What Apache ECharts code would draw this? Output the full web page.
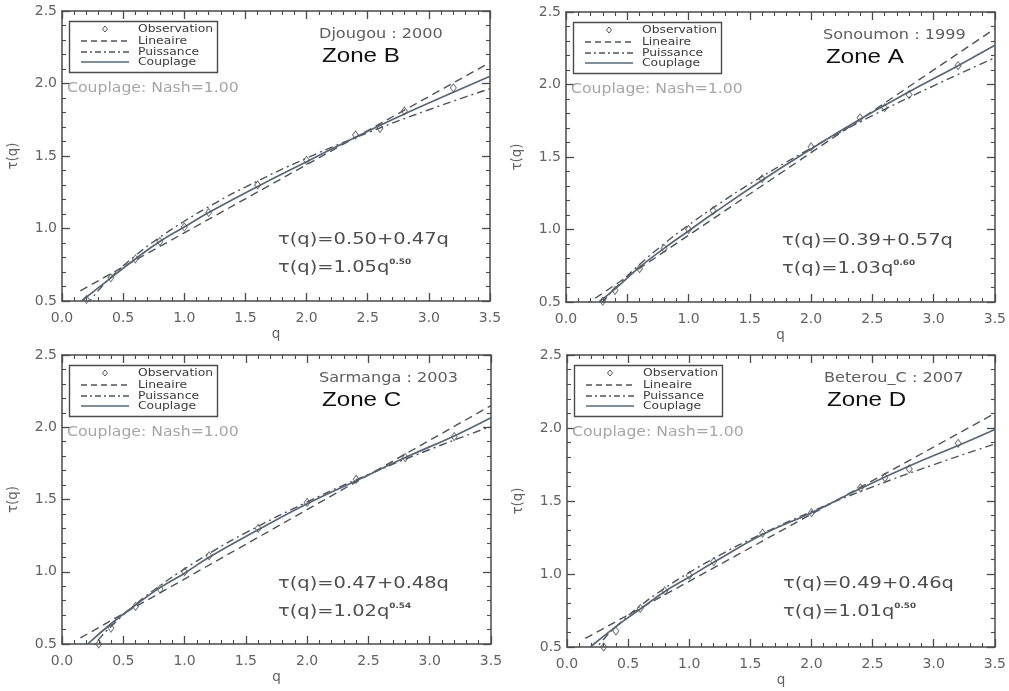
<!DOCTYPE html>
<html>
<head>
<meta charset="utf-8">
<script src="https://cdn.jsdelivr.net/npm/echarts@6/dist/echarts.min.js"></script>
<style>
  html, body { margin: 0; padding: 0; background: #fff; }
  #chart { width: 1009px; height: 691px; }
</style>
</head>
<body>
<div id="chart"></div>
<script>
// ---- Axis ranges and ticks ----
const qRange = [0, 3.5];
const tauRange = [0.5, 2.5];
const tickStep = 0.5;

// ---- Panel annotations ----
const stations = ['Djougou : 2000', 'Sonoumon : 1999', 'Sarmanga : 2003', 'Beterou_C : 2007'];
const zones = ['Zone B', 'Zone A', 'Zone C', 'Zone D'];
const linLabels = ['τ(q)=0.50+0.47q', 'τ(q)=0.39+0.57q', 'τ(q)=0.47+0.48q', 'τ(q)=0.49+0.46q'];
const powLabels = ['τ(q)=1.05q', 'τ(q)=1.03q', 'τ(q)=1.02q', 'τ(q)=1.01q'];
const powExponents = ['0.50', '0.60', '0.54', '0.50'];
const nashLabel = 'Couplage: Nash=1.00';
const legendNames = ['Observation', 'Lineaire', 'Puissance', 'Couplage'];

// ---- Observations τ(q) ----
const obsQ_B = [0.2, 0.4, 0.6, 0.8, 1.0, 1.2, 1.6, 2.0, 2.4, 2.6, 2.8, 3.2];
const obsTau_B = [0.51, 0.66, 0.79, 0.91, 1.01, 1.11, 1.30, 1.47, 1.645, 1.69, 1.81, 1.97];
const obsQ_A = [0.3, 0.4, 0.6, 0.8, 1.0, 1.2, 1.6, 2.0, 2.4, 2.6, 2.8, 3.2];
const obsTau_A = [0.505, 0.58, 0.73, 0.87, 1.0, 1.13, 1.35, 1.57, 1.77, 1.84, 1.93, 2.13];
const obsQ_C = [0.3, 0.4, 0.6, 0.8, 1.0, 1.2, 1.6, 2.0, 2.4, 2.8, 3.2];
const obsTau_C = [0.50, 0.61, 0.76, 0.88, 1.0, 1.11, 1.30, 1.48, 1.64, 1.79, 1.935];
const obsQ_D = [0.3, 0.4, 0.6, 0.8, 1.0, 1.2, 1.6, 2.0, 2.4, 2.6, 2.8, 3.2];
const obsTau_D = [0.50, 0.61, 0.765, 0.885, 0.99, 1.085, 1.28, 1.42, 1.59, 1.66, 1.72, 1.895];

// ---- Linear fits (end points) ----
const linQ = [0.15, 3.5];
const linTau_B = [0.5705, 2.145];
const linTau_A = [0.4755, 2.385];
const linTau_C = [0.542, 2.15];
const linTau_D = [0.559, 2.10];

// ---- Power-law fits ----
const powQ = [0.2, 0.3, 0.4, 0.6, 0.8, 1.0, 1.25, 1.5, 2.0, 2.5, 3.0, 3.5];
const powTau_B = [0.470, 0.575, 0.664, 0.813, 0.939, 1.050, 1.174, 1.286, 1.485, 1.660, 1.819, 1.964];
const powTau_A = [0.392, 0.500, 0.594, 0.758, 0.901, 1.030, 1.178, 1.314, 1.561, 1.785, 1.991, 2.184];
const powTau_C = [0.428, 0.532, 0.622, 0.774, 0.904, 1.020, 1.151, 1.270, 1.483, 1.673, 1.846, 2.006];
const powTau_D = [0.452, 0.553, 0.639, 0.782, 0.903, 1.010, 1.129, 1.237, 1.428, 1.597, 1.749, 1.890];

// ---- Coupled model ----
const coupQ_B = [0.16, 0.4, 0.6, 0.8, 1.0, 1.2, 1.6, 2.0, 2.4, 2.8, 3.2, 3.5];
const coupTau_B = [0.5, 0.66, 0.79, 0.91, 1.01, 1.11, 1.29, 1.46, 1.63, 1.79, 1.94, 2.05];
const coupQ_A = [0.27, 0.4, 0.6, 0.8, 1.0, 1.2, 1.6, 2.0, 2.4, 2.8, 3.2, 3.5];
const coupTau_A = [0.5, 0.59, 0.74, 0.87, 0.99, 1.11, 1.34, 1.555, 1.76, 1.95, 2.13, 2.27];
const coupQ_C = [0.21, 0.4, 0.6, 0.8, 1.0, 1.2, 1.6, 2.0, 2.4, 2.8, 3.2, 3.5];
const coupTau_C = [0.5, 0.64, 0.77, 0.89, 0.99, 1.10, 1.29, 1.47, 1.63, 1.79, 1.94, 2.065];
const coupQ_D = [0.19, 0.4, 0.6, 0.8, 1.0, 1.2, 1.6, 2.0, 2.4, 2.8, 3.2, 3.5];
const coupTau_D = [0.5, 0.64, 0.76, 0.88, 0.98, 1.08, 1.27, 1.42, 1.585, 1.74, 1.88, 1.99];

const panelData = [
  { obsQ: obsQ_B, obsTau: obsTau_B, lin: linTau_B, pow: powTau_B, coupQ: coupQ_B, coupTau: coupTau_B },
  { obsQ: obsQ_A, obsTau: obsTau_A, lin: linTau_A, pow: powTau_A, coupQ: coupQ_A, coupTau: coupTau_A },
  { obsQ: obsQ_C, obsTau: obsTau_C, lin: linTau_C, pow: powTau_C, coupQ: coupQ_C, coupTau: coupTau_C },
  { obsQ: obsQ_D, obsTau: obsTau_D, lin: linTau_D, pow: powTau_D, coupQ: coupQ_D, coupTau: coupTau_D }
];

// ---- Layout of the four plot frames ----
const frames = [
  { left: 62, top: 11, width: 428, height: 290 },
  { left: 566, top: 12, width: 431, height: 290 },
  { left: 62, top: 355, width: 429, height: 289 },
  { left: 567, top: 355, width: 428, height: 292 }
];

const FONT = '"DejaVu Sans", "Noto Sans", sans-serif';
const AXIS_COLOR = '#4a4a4a';
const LABEL_COLOR = '#626262';
const DASH = [8, 5];
const DASH_DOT = [8, 4, 2, 4];
const LINE_COLOR = '#4f5358';
const COUP_COLOR = '#56677a';

const pairs = (xs, ys) => xs.map((x, i) => [x, ys[i]]);
const fmt = v => v.toFixed(1);

function xAxisFor(i, pos) {
  const bottom = pos === 'bottom';
  return {
    gridIndex: i, type: 'value', position: pos,
    min: qRange[0], max: qRange[1], interval: tickStep,
    axisLine: { show: true, onZero: false, lineStyle: { color: AXIS_COLOR, width: 1.5 } },
    axisTick: { show: true, inside: true, length: 8, lineStyle: { color: AXIS_COLOR, width: 1.3 } },
    minorTick: { show: true, splitNumber: 5, length: 4, lineStyle: { color: AXIS_COLOR, width: 1.1 } },
    splitLine: { show: false },
    axisLabel: { show: bottom, formatter: fmt, color: LABEL_COLOR, fontFamily: FONT, fontSize: 14, margin: 10 },
    name: bottom ? 'q' : '', nameLocation: 'middle', nameGap: 26,
    nameTextStyle: { color: LABEL_COLOR, fontFamily: FONT, fontSize: 13.5 }
  };
}

function yAxisFor(i, pos) {
  const left = pos === 'left';
  return {
    gridIndex: i, type: 'value', position: pos,
    min: tauRange[0], max: tauRange[1], interval: tickStep,
    axisLine: { show: true, onZero: false, lineStyle: { color: AXIS_COLOR, width: 1.5 } },
    axisTick: { show: true, inside: true, length: 8, lineStyle: { color: AXIS_COLOR, width: 1.3 } },
    minorTick: { show: true, splitNumber: 5, length: 4, lineStyle: { color: AXIS_COLOR, width: 1.1 } },
    splitLine: { show: false },
    axisLabel: { show: left, formatter: fmt, color: LABEL_COLOR, fontFamily: FONT, fontSize: 14, margin: 5 },
    name: left ? 'τ(q)' : '', nameLocation: 'middle', nameGap: 42, nameRotate: 90,
    nameTextStyle: { color: LABEL_COLOR, fontFamily: FONT, fontSize: 13.5 }
  };
}

const grids = [], xAxes = [], yAxes = [], series = [], graphics = [];

frames.forEach((f, i) => {
  grids.push({ left: f.left, top: f.top, width: f.width, height: f.height, containLabel: false });
  xAxes.push(xAxisFor(i, 'bottom'), xAxisFor(i, 'top'));
  yAxes.push(yAxisFor(i, 'left'), yAxisFor(i, 'right'));

  const d = panelData[i];
  const ax = { xAxisIndex: 2 * i, yAxisIndex: 2 * i };
  series.push(
    Object.assign({
      name: legendNames[1], type: 'line', data: pairs(linQ, d.lin), showSymbol: false, clip: true,
      lineStyle: { color: LINE_COLOR, width: 1.4, type: DASH }, z: 2
    }, ax),
    Object.assign({
      name: legendNames[2], type: 'line', data: pairs(powQ, d.pow), smooth: true, showSymbol: false, clip: true,
      lineStyle: { color: LINE_COLOR, width: 1.4, type: DASH_DOT }, z: 2
    }, ax),
    Object.assign({
      name: legendNames[3], type: 'line', data: pairs(d.coupQ, d.coupTau), smooth: true, showSymbol: false, clip: true,
      lineStyle: { color: COUP_COLOR, width: 1.7 }, z: 3
    }, ax),
    Object.assign({
      name: legendNames[0], type: 'scatter', data: pairs(d.obsQ, d.obsTau), symbol: 'diamond', symbolSize: [6, 8],
      itemStyle: { color: 'rgba(255,255,255,0)', borderColor: '#555', borderWidth: 1 }, z: 4
    }, ax)
  );

  // Legend box
  const bx = f.left + 7, by = f.top + 10;
  graphics.push({
    type: 'rect', shape: { x: bx + 0.5, y: by + 0.5, width: 148, height: 51 },
    style: { fill: '#fff', stroke: '#4a4a4a', lineWidth: 1.4 }, z: 10
  });
  const rowY = [by + 8, by + 20, by + 31, by + 41];
  const sx1 = bx + 12, sx2 = bx + 60, cx = bx + 36;
  graphics.push({
    type: 'polygon', shape: { points: [[cx, rowY[0] - 3], [cx + 2.5, rowY[0]], [cx, rowY[0] + 3], [cx - 2.5, rowY[0]]] },
    style: { fill: 'none', stroke: '#555', lineWidth: 1 }, z: 11
  });
  graphics.push({
    type: 'line', shape: { x1: sx1, y1: rowY[1], x2: sx2, y2: rowY[1] },
    style: { stroke: LINE_COLOR, lineWidth: 1.3, lineDash: [6, 4] }, z: 11
  });
  graphics.push({
    type: 'line', shape: { x1: sx1, y1: rowY[2], x2: sx2, y2: rowY[2] },
    style: { stroke: LINE_COLOR, lineWidth: 1.3, lineDash: [6, 3, 2, 3] }, z: 11
  });
  graphics.push({
    type: 'line', shape: { x1: sx1, y1: rowY[3], x2: sx2, y2: rowY[3] },
    style: { stroke: COUP_COLOR, lineWidth: 1.6 }, z: 11
  });
  legendNames.forEach((n, k) => {
    graphics.push({
      type: 'text', x: bx + 69, y: rowY[k], scaleX: 1.12, z: 11,
      style: { text: n, fill: '#3a3a3a', fontFamily: FONT, fontSize: 11, align: 'left', verticalAlign: 'middle' }
    });
  });

  // Station and zone titles
  graphics.push({
    type: 'text', x: f.left + 257, y: f.top + 23, scaleX: 1.15, z: 11,
    style: { text: stations[i], fill: '#5e5e5e', fontFamily: FONT, fontSize: 14, align: 'left', verticalAlign: 'middle' }
  });
  graphics.push({
    type: 'text', x: f.left + 260, y: f.top + 45, scaleX: 1.15, z: 11,
    style: { text: zones[i], fill: '#111', fontFamily: '"Liberation Sans", Arial, sans-serif', fontSize: 21, align: 'left', verticalAlign: 'middle' }
  });
  // Nash score of the coupled model
  graphics.push({
    type: 'text', x: f.left + 5, y: f.top + 77, scaleX: 1.12, z: 11,
    style: { text: nashLabel, fill: '#a6a6a6', fontFamily: FONT, fontSize: 14, align: 'left', verticalAlign: 'middle' }
  });
  // Fitted equations
  graphics.push({
    type: 'text', x: f.left + 216, y: f.top + 229, scaleX: 1.18, z: 11,
    style: { text: linLabels[i], fill: '#4e4e4e', fontFamily: FONT, fontSize: 16.5, align: 'left', verticalAlign: 'middle' }
  });
  graphics.push({
    type: 'text', x: f.left + 216, y: f.top + 257, scaleX: 1.18, z: 11,
    style: {
      text: '{m|' + powLabels[i] + '}{s|' + powExponents[i] + '}',
      align: 'left', verticalAlign: 'middle',
      rich: {
        m: { fill: '#4e4e4e', fontFamily: FONT, fontSize: 16.5, lineHeight: 20 },
        s: { fill: '#4e4e4e', fontFamily: FONT, fontSize: 7.5, fontWeight: 'bold', verticalAlign: 'top', lineHeight: 20 }
      }
    }
  });
});

const chart = echarts.init(document.getElementById('chart'), null, { renderer: 'canvas' });
chart.setOption({
  backgroundColor: '#fff',
  animation: false,
  grid: grids,
  xAxis: xAxes,
  yAxis: yAxes,
  series: series,
  graphic: { elements: graphics }
});
</script>
</body>
</html>
